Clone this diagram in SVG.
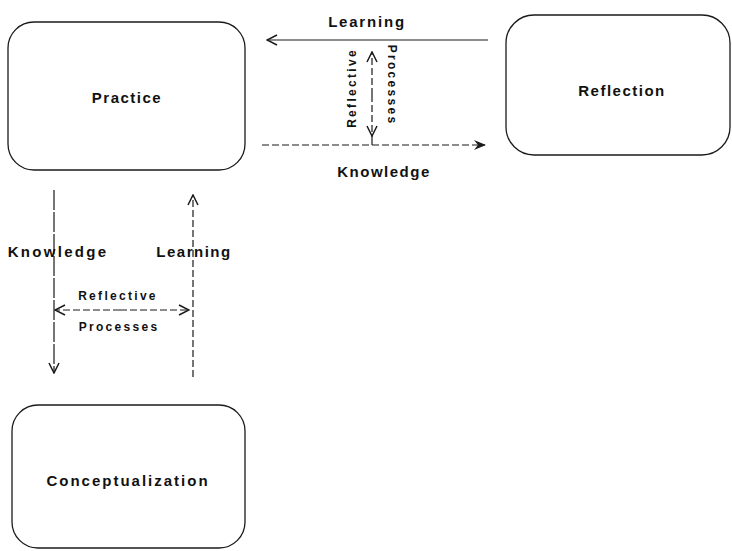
<svg xmlns="http://www.w3.org/2000/svg" width="732" height="551" viewBox="0 0 732 551">
<style>
.box{fill:none;stroke:#1a1a1a;stroke-width:1.3}
.ln{fill:none;stroke:#1a1a1a;stroke-width:1.2}
.dash{stroke-dasharray:7 3}
.long{stroke-dasharray:20 2}
.big{font-family:"Liberation Sans",Arial,sans-serif;font-weight:bold;font-size:15px;fill:#111;letter-spacing:1.5px;text-anchor:middle}
.sm{font-family:"Liberation Sans",Arial,sans-serif;font-weight:bold;font-size:12px;fill:#111;letter-spacing:2.3px;text-anchor:middle}
</style>
<defs>
<marker id="open" viewBox="0 0 12 12" refX="11" refY="6" markerWidth="12" markerHeight="12" markerUnits="userSpaceOnUse" orient="auto">
<path d="M1,1 L11,6 L1,11" fill="none" stroke="#1a1a1a" stroke-width="1.5"/>
</marker>
<marker id="fill" viewBox="0 0 12 12" refX="11" refY="6" markerWidth="12" markerHeight="12" markerUnits="userSpaceOnUse" orient="auto">
<path d="M0,1 L12,6 L0,11 L4,6 Z" fill="#1a1a1a"/>
</marker>
</defs>
<rect width="732" height="551" fill="#fff"/>
<g id="practice">
<rect class="box" x="8" y="22" width="237" height="148" rx="26"/>
<text class="big" x="127" y="103">Practice</text>
</g>
<g id="reflection">
<rect class="box" x="506" y="15" width="224" height="140" rx="28"/>
<text class="big" x="622" y="96">Reflection</text>
</g>
<g id="conceptualization">
<rect class="box" x="12" y="405" width="233" height="143" rx="26"/>
<text class="big" x="128" y="486" style="letter-spacing:2px">Conceptualization</text>
</g>
<g id="connectors">
<line class="ln" x1="488" y1="40" x2="267" y2="40" marker-end="url(#open)"/>
<line class="ln dash" x1="262" y1="145" x2="485" y2="145" marker-end="url(#fill)"/>
<line class="ln dash" x1="372" y1="95" x2="372" y2="52" marker-end="url(#open)"/>
<line class="ln dash" x1="372" y1="95" x2="372" y2="136" marker-end="url(#open)"/>
<line class="ln" x1="372" y1="136" x2="372" y2="145"/>
<line class="ln long" x1="54" y1="190" x2="54" y2="373" marker-end="url(#open)"/>
<line class="ln dash" x1="193" y1="377" x2="193" y2="195" marker-end="url(#open)"/>
<line class="ln dash" x1="120" y1="310" x2="55" y2="310" marker-end="url(#open)"/>
<line class="ln dash" x1="120" y1="310" x2="189" y2="310" marker-end="url(#open)"/>
</g>
<g id="labels">
<text class="big" x="367" y="27" style="letter-spacing:1.8px">Learning</text>
<text class="big" x="384" y="177">Knowledge</text>
<text class="sm" transform="translate(356,88) rotate(-90)">Reflective</text>
<text class="sm" transform="translate(388,85) rotate(90)">Processes</text>
<text class="big" x="58" y="257" style="letter-spacing:2.3px">Knowledge</text>
<text class="big" x="194" y="257" style="letter-spacing:1.5px">Learning</text>
<text class="sm" x="118" y="300">Reflective</text>
<text class="sm" x="119" y="331">Processes</text>
</g>
</svg>
